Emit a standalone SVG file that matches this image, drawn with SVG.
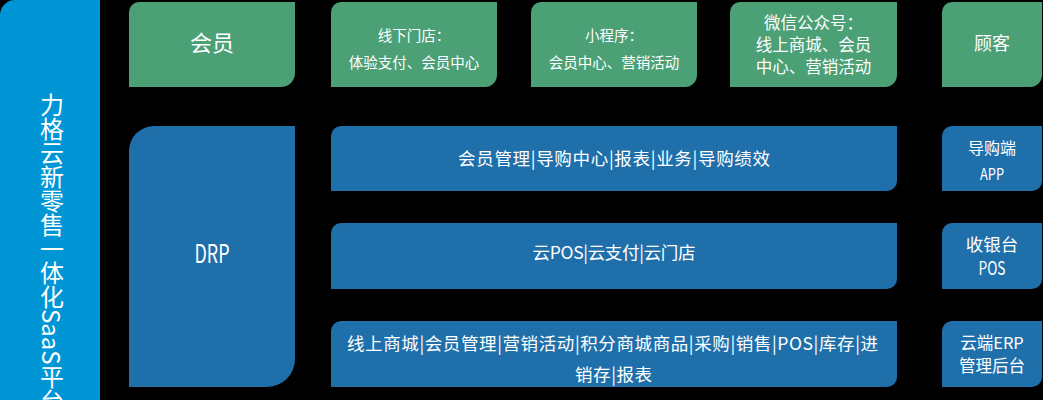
<svg xmlns="http://www.w3.org/2000/svg" width="1043" height="400" viewBox="0 0 1043 400">
<style>
.g{fill:#4CA076}
.b{fill:#1F6FAB}
.l{fill:#0096D6}
text{font-family:"Noto Sans CJK SC","Noto Sans",sans-serif;fill:#FFFFFF;text-anchor:middle}
</style>
<rect x="0" y="0" width="1043" height="400" fill="#000000"/>
<g id="platform">
<path class="l" d="M0,15 A15,15 0 0 1 15,0 H100 V400 H0 Z"/>
<text x="52" y="93" font-size="24" style="writing-mode:vertical-rl;text-anchor:start">力格云新零售一体化SaaS平台</text>
</g>
<g id="member">
<path class="g" d="M139,2 H295 V73 A14,14 0 0 1 281,87 H129 V12 A10,10 0 0 1 139,2 Z"/>
<text x="212" y="51" font-size="22">会员</text>
</g>
<g id="store">
<path class="g" d="M341,2 H497 V75 A12,12 0 0 1 485,87 H331 V12 A10,10 0 0 1 341,2 Z"/>
<text x="414" y="40.5" font-size="14.5">线下门店：</text>
<text x="414" y="67.5" font-size="14.5">体验支付、会员中心</text>
</g>
<g id="miniapp">
<path class="g" d="M541,2 H697 V75 A12,12 0 0 1 685,87 H531 V12 A10,10 0 0 1 541,2 Z"/>
<text x="614" y="40.5" font-size="14.5">小程序：</text>
<text x="614" y="67.5" font-size="14.5">会员中心、营销活动</text>
</g>
<g id="wechat">
<path class="g" d="M740,2 H897 V75 A12,12 0 0 1 885,87 H730 V12 A10,10 0 0 1 740,2 Z"/>
<text x="813.5" y="28.5" font-size="16.5">微信公众号：</text>
<text x="813.5" y="50.5" font-size="16.5">线上商城、会员</text>
<text x="813.5" y="72.5" font-size="16.5">中心、营销活动</text>
</g>
<g id="customer">
<path class="g" d="M952,2 H1042 V75 A12,12 0 0 1 1030,87 H942 V12 A10,10 0 0 1 952,2 Z"/>
<text x="992" y="50" font-size="18">顾客</text>
</g>
<g id="drp">
<path class="b" d="M154,126 H295 V359 A28,28 0 0 1 267,387 H129 V151 A25,25 0 0 1 154,126 Z"/>
<text x="212" y="263" font-size="25" textLength="35" lengthAdjust="spacingAndGlyphs">DRP</text>
</g>
<g id="row1">
<path class="b" d="M341,126 H897 V181 A10,10 0 0 1 887,191 H331 V136 A10,10 0 0 1 341,126 Z"/>
<text x="614" y="164.5" font-size="17.5" textLength="312" lengthAdjust="spacing">会员管理|导购中心|报表|业务|导购绩效</text>
</g>
<g id="row2">
<path class="b" d="M341,223 H897 V279 A10,10 0 0 1 887,289 H331 V233 A10,10 0 0 1 341,223 Z"/>
<text x="614" y="258.5" font-size="17.5" textLength="163" lengthAdjust="spacing">云POS|云支付|云门店</text>
</g>
<g id="row3">
<path class="b" d="M341,321 H897 V377 A10,10 0 0 1 887,387 H331 V331 A10,10 0 0 1 341,321 Z"/>
<text x="612.5" y="349.5" font-size="17.5" textLength="531" lengthAdjust="spacing">线上商城|会员管理|营销活动|积分商城商品|采购|销售|POS|库存|进</text>
<text x="613.5" y="380.5" font-size="17.5" textLength="77" lengthAdjust="spacing">销存|报表</text>
</g>
<g id="guide-app">
<path class="b" d="M952,126 H1042 V181 A10,10 0 0 1 1032,191 H942 V136 A10,10 0 0 1 952,126 Z"/>
<text x="992" y="154" font-size="16">导购端</text>
<text x="992" y="180" font-size="16" textLength="24" lengthAdjust="spacingAndGlyphs">APP</text>
</g>
<g id="pos">
<path class="b" d="M952,223 H1042 V279 A10,10 0 0 1 1032,289 H942 V233 A10,10 0 0 1 952,223 Z"/>
<text x="992" y="250.5" font-size="17.5">收银台</text>
<text x="992" y="275" font-size="18" textLength="27" lengthAdjust="spacingAndGlyphs">POS</text>
</g>
<g id="erp">
<path class="b" d="M952,321 H1042 V377 A10,10 0 0 1 1032,387 H942 V331 A10,10 0 0 1 952,321 Z"/>
<text x="992" y="349" font-size="16.5">云端ERP</text>
<text x="992" y="372" font-size="16.5">管理后台</text>
</g>
<g id="connectors"></g>
</svg>
